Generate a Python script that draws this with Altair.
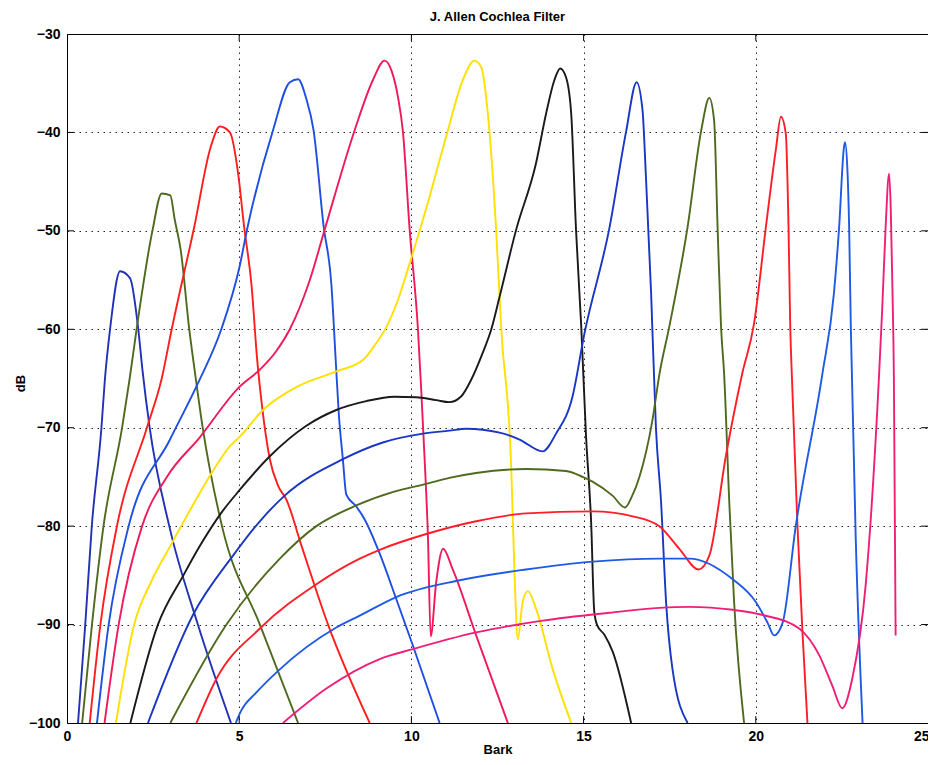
import altair as alt
import pandas as pd

chart_title = "J. Allen Cochlea Filter"
x_title = "Bark"
y_title = "dB"
x_ticks = [0, 5, 10, 15, 20, 25]
y_ticks = [-100, -90, -80, -70, -60, -50, -40, -30]

c1_x = [0.32, 0.53, 0.72, 1.0, 1.10, 1.25, 1.54, 1.83, 2.07, 2.19, 2.40, 2.97, 3.80, 4.76]
c1_y = [-100, -90, -80, -70, -65.1, -60, -54.1, -54.8, -60, -64.1, -70, -80, -90, -100]

c2_x = [0.44, 0.725, 1.06, 1.60, 1.82, 2.02, 2.48, 2.75, 3.0, 3.13, 3.30, 3.55, 3.72, 3.94, 4.50, 5.60, 6.71]
c2_y = [-100, -90, -80, -70, -65, -60, -50, -46.2, -46.4, -48.9, -51.9, -60, -64.5, -70, -80, -90, -100]

c3_x = [0.66, 0.97, 1.45, 2.32, 2.75, 3.04, 3.70, 4.17, 4.44, 4.73, 4.97, 5.14, 5.36, 5.52, 5.67, 5.89, 6.13, 6.37, 6.81, 7.58, 8.79]
c3_y = [-100, -90, -80, -70, -65, -60, -49.5, -41.5, -39.4, -40.0, -44.2, -49.5, -55.6, -63, -68, -73.2, -75.9, -77.3, -82, -90, -100]

c4_x = [0.87, 1.21, 1.79, 2.99, 3.80, 4.48, 5.0, 5.25, 5.98, 6.47, 6.71, 6.95, 7.16, 7.45, 7.68, 7.80, 7.89, 8.01, 8.11, 8.40, 8.64, 9.08, 9.56, 10.04, 10.82]
c4_y = [-100, -90, -80, -71.2, -65.5, -60, -53.8, -49.5, -39.8, -34.9, -34.6, -36.6, -39.8, -49.5, -55.6, -63, -68.5, -73.2, -76.8, -78, -79.3, -82.8, -87.4, -92.1, -100]

c5_x = [1.09, 1.50, 2.18, 2.90, 3.85, 5.02, 5.60, 6.08, 6.47, 7.05, 7.48, 8.35, 8.88, 9.22, 9.42, 9.61, 9.75, 9.95, 10.19, 10.29, 10.38, 10.48, 10.56, 10.72, 10.92, 11.20, 11.88, 12.80]
c5_y = [-100, -90, -80, -75, -71, -65.8, -64.1, -62.2, -60, -55, -49.9, -39.8, -34.7, -32.7, -33.7, -36.4, -39.8, -49.9, -60, -66.5, -72.9, -81, -91.2, -85.7, -82.3, -84.4, -91.1, -100]

c6_x = [1.42, 1.95, 2.45, 3.05, 3.86, 4.20, 4.75, 5.02, 5.69, 6.70, 7.80, 8.60, 8.98, 9.27, 9.61, 9.95, 10.53, 11.01, 11.49, 11.83, 12.03, 12.22, 12.46, 12.61, 12.90, 12.99, 13.09, 13.23, 13.38, 13.62, 14.10, 14.64]
c6_y = [-100, -90, -85.6, -81.7, -76.6, -74.6, -71.8, -70.9, -68.2, -65.8, -64.3, -63.1, -61.4, -59.8, -57, -53.3, -46.5, -40.4, -34.7, -32.7, -33.4, -38.1, -49.9, -60, -74.2, -84.4, -91.5, -87.7, -86.6, -88.4, -94.5, -100]

c7_x = [1.84, 2.64, 3.38, 3.86, 4.49, 5.02, 5.89, 6.95, 7.82, 8.69, 9.50, 10.14, 10.72, 11.10, 11.45, 11.74, 12.07, 12.32, 12.56, 13.04, 13.62, 13.91, 14.15, 14.32, 14.49, 14.64, 14.78, 14.93, 15.07, 15.22, 15.31, 15.40, 15.60, 15.85, 16.38]
c7_y = [-100, -90, -85.0, -82, -78.6, -76.3, -72.9, -69.8, -68.2, -67.3, -66.85, -66.9, -67.2, -67.4, -66.8, -65.1, -62.4, -60, -56.7, -49.9, -43.1, -38.1, -34.7, -33.5, -34.4, -38.1, -49.9, -59.6, -70.8, -79.7, -88.7, -90.1, -91, -92.8, -100]

c8_x = [2.35, 3.66, 4.82, 5.65, 6.32, 8.01, 9.17, 10.34, 11.10, 11.59, 12.56, 13.14, 13.81, 14.20, 14.68, 15.02, 15.75, 16.23, 16.54, 16.71, 16.81, 16.96, 17.10, 17.25, 17.40, 17.58, 18.02]
c8_y = [-100, -89, -83, -79.3, -76.9, -73.2, -71.5, -70.6, -70.3, -70.1, -70.5, -71.2, -72.4, -70.6, -66.8, -60.5, -49.7, -40, -34.9, -37.7, -44.5, -56.3, -70, -77.6, -88, -94.5, -100]

c9_x = [3.0, 4.63, 6.18, 7.24, 8.40, 9.50, 10.43, 11.10, 11.88, 13.33, 14.49, 14.97, 15.27, 15.84, 16.20, 16.40, 16.62, 17.0, 17.20, 17.49, 18.02, 18.41, 18.65, 18.79, 18.89, 18.99, 19.08, 19.23, 19.37, 19.66]
c9_y = [-100, -90, -83.3, -80, -77.9, -76.5, -75.7, -75.1, -74.6, -74.2, -74.4, -75, -75.5, -76.9, -78.1, -77.0, -75.0, -69.2, -64.6, -59.7, -49.6, -39.9, -36.5, -38.8, -49.6, -59.7, -64.5, -77.6, -87.7, -100]

c10_x = [3.76, 4.34, 5.60, 7.24, 8.50, 9.08, 10.43, 11.88, 13.33, 15.27, 16.43, 17.20, 17.78, 18.34, 18.65, 19.13, 19.60, 19.95, 20.29, 20.58, 20.73, 20.87, 20.95, 21.0, 21.05, 21.21, 21.36, 21.50]
c10_y = [-100, -95.5, -90.4, -85.9, -83.3, -82.4, -80.8, -79.5, -78.7, -78.5, -79, -80, -82.3, -84.4, -83, -72.9, -64.6, -59.4, -49.7, -41.8, -38.4, -40.1, -49.6, -59.7, -65, -80, -91.1, -100]

c11_x = [4.90, 5.05, 5.50, 6.13, 7.82, 8.50, 9.56, 11.40, 13.33, 15.27, 17.20, 18.07, 19.33, 20.0, 20.34, 20.53, 20.78, 21.16, 21.93, 22.27, 22.42, 22.56, 22.59, 22.66, 22.71, 22.76, 22.90, 23.10]
c11_y = [-100, -98.8, -96.9, -94.7, -90.3, -89.1, -87.2, -85.5, -84.4, -83.6, -83.3, -83.3, -85.4, -87.7, -89.8, -91.1, -89.8, -80, -64.6, -56.3, -49.6, -41.5, -41, -43.8, -49.6, -60, -81, -100]

c12_x = [6.27, 7.53, 9.08, 10.04, 11.88, 13.81, 15.75, 17.20, 18.07, 19.33, 20.29, 21.26, 21.84, 22.22, 22.51, 22.80, 23.19, 23.58, 23.67, 23.77, 23.87, 23.92, 23.97, 24.01, 24.06]
c12_y = [-100, -96.5, -93.5, -92.5, -90.8, -89.6, -88.8, -88.3, -88.2, -88.5, -89.1, -90.4, -93.1, -96.2, -98.5, -95.5, -86, -64.6, -58, -49.6, -44.2, -47.9, -56.3, -65, -91.1]

curves = [
    ("c01", c1_x, c1_y, "#2232b4"),
    ("c02", c2_x, c2_y, "#4f6a1e"),
    ("c03", c3_x, c3_y, "#ff1e1e"),
    ("c04", c4_x, c4_y, "#1f4fe0"),
    ("c05", c5_x, c5_y, "#ef1a5a"),
    ("c06", c6_x, c6_y, "#ffe000"),
    ("c07", c7_x, c7_y, "#1a1a1a"),
    ("c08", c8_x, c8_y, "#1a36c4"),
    ("c09", c9_x, c9_y, "#4f6a1e"),
    ("c10", c10_x, c10_y, "#ff1e28"),
    ("c11", c11_x, c11_y, "#1f5ae4"),
    ("c12", c12_x, c12_y, "#ef1f78"),
]

rows = []
for name, xs, ys, _ in curves:
    for i, (xv, yv) in enumerate(zip(xs, ys)):
        rows.append({"curve": name, "i": i, "bark": xv, "db": yv})
df = pd.DataFrame(rows)

# inward tick marks built from the tick lists
tk = []
for t in x_ticks[1:-1]:
    tk.append({"x": t, "x2": t, "y": -100, "y2": -99.3})
    tk.append({"x": t, "x2": t, "y": -30, "y2": -30.7})
for t in y_ticks[1:-1]:
    tk.append({"x": 0, "x2": 0.2, "y": t, "y2": t})
    tk.append({"x": 25, "x2": 24.8, "y": t, "y2": t})
tdf = pd.DataFrame(tk)

FONT = "Liberation Sans"
xscale = alt.Scale(domain=[0, 25], nice=False, zero=False)
yscale = alt.Scale(domain=[-100, -30], nice=False, zero=False)

lines = alt.Chart(df).mark_line(strokeWidth=1.9, clip=True, interpolate="monotone").encode(
    x=alt.X("bark:Q", scale=xscale,
            axis=alt.Axis(values=x_ticks, title=x_title, grid=True, ticks=False, domain=False,
                          labelPadding=6, titlePadding=0, format="d",
                          labelAlign=alt.ExprRef(expr="datum.value == 25 ? 'right' : 'center'"),
                          labelOffset=alt.ExprRef(expr="datum.value == 25 ? 1 : 0"))),
    y=alt.Y("db:Q", scale=yscale,
            axis=alt.Axis(values=y_ticks, title=y_title, grid=True, ticks=False, domain=False,
                          labelPadding=7, titleX=-40, titleY=349, format="d")),
    color=alt.Color("curve:N", scale=alt.Scale(domain=[c[0] for c in curves],
                                               range=[c[3] for c in curves]), legend=None),
    order=alt.Order("i:Q"),
)

ticks = alt.Chart(tdf).mark_rule(color="black", strokeWidth=1).encode(
    x=alt.X("x:Q", scale=xscale), x2="x2:Q",
    y=alt.Y("y:Q", scale=yscale), y2="y2:Q",
)

chart = alt.layer(lines, ticks).properties(
    width=861, height=689,
    autosize=alt.AutoSizeParams(type="none"),
    padding={"left": 59, "top": 26, "right": 0, "bottom": 33},
    title=alt.TitleParams(chart_title, font=FONT, fontSize=13, fontWeight="bold",
                          color="black", offset=3),
).configure_view(stroke="black", strokeWidth=1).configure_axis(
    labelFont=FONT, labelFontSize=14, labelColor="black", labelFontWeight="bold",
    titleFont=FONT, titleFontSize=13, titleColor="black", titleFontWeight="bold",
    gridColor="black", gridDash=[1.5, 4.5], gridOpacity=0.85, gridWidth=1,
)

chart.save("out.html", embed_options={"renderer": "svg", "actions": False})
